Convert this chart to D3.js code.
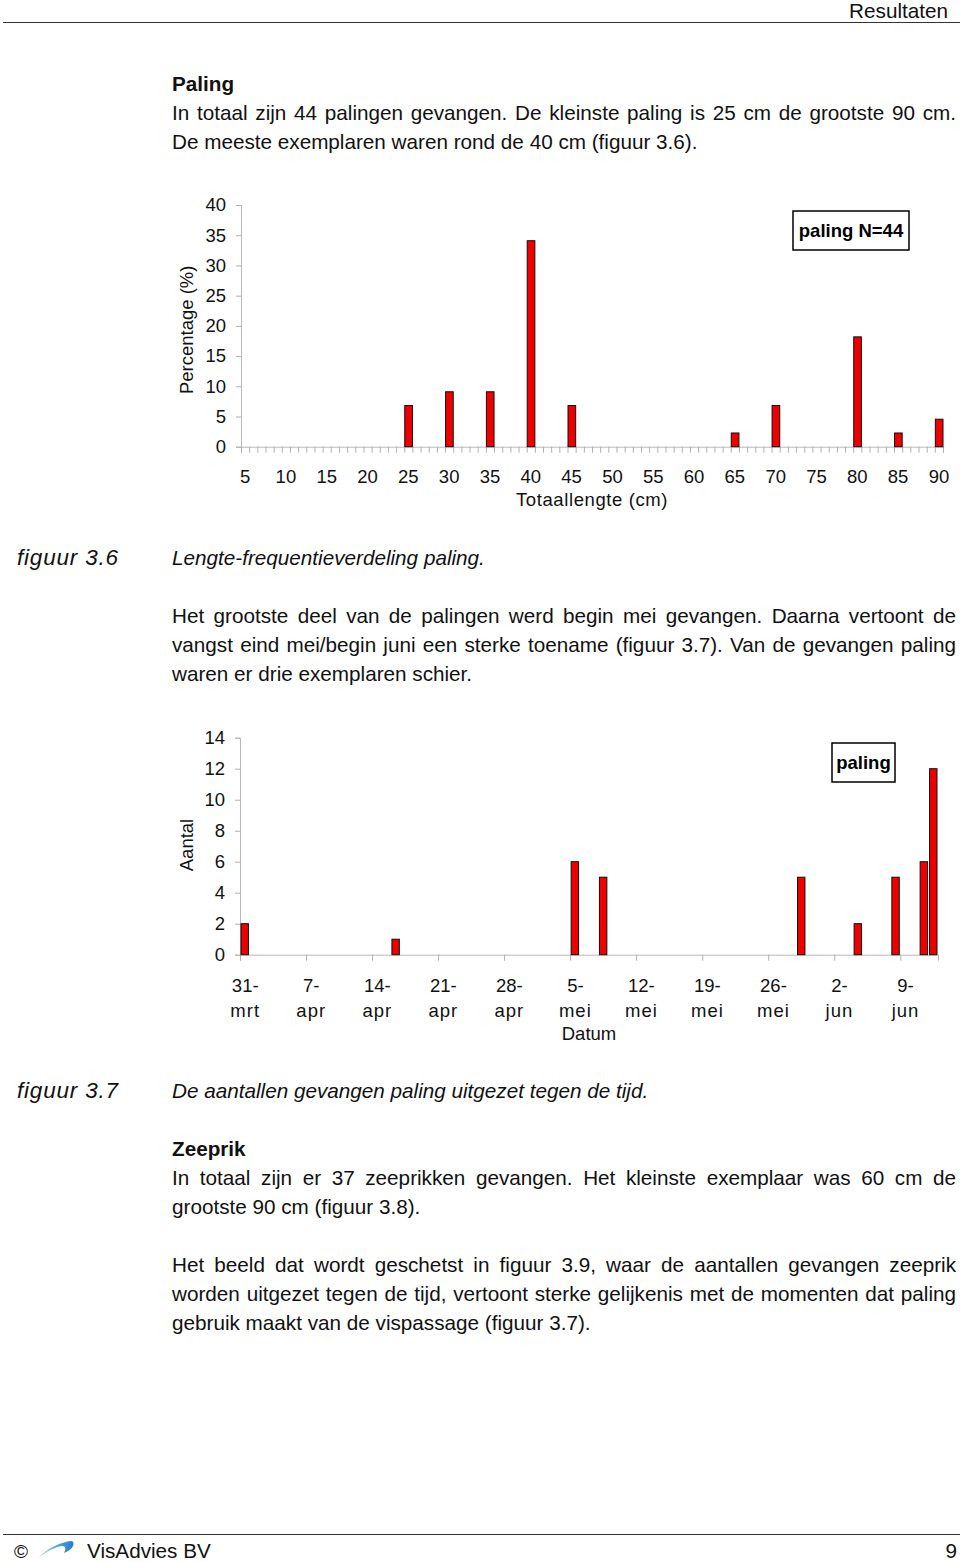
<!DOCTYPE html>
<html>
<head>
<meta charset="utf-8">
<script src="https://cdn.jsdelivr.net/npm/d3@7"></script>
<style>
    body { margin: 0; background: #fff; }
    svg { display: block; font-family: "Liberation Sans", Arial, sans-serif; }
    .axis text { font-size: 18.5px; fill: #111; font-family: "Liberation Sans", Arial, sans-serif; }
</style>
</head>
<body>
<script>
"use strict";

// figuur 3.6 - lengte-frequentie (percentage per lengteklasse, N=44)
const lengthClasses = [25, 30, 35, 40, 45, 65, 70, 80, 85, 90];
const lengthPct     = [6.82, 9.09, 9.09, 34.09, 6.82, 2.27, 6.82, 18.18, 2.27, 4.55];
const lengthTicks   = d3.range(5, 91, 5);
const pctTicks      = d3.range(0, 41, 5);

// figuur 3.7 - aantallen paling per datum
const catchDates  = ["03-31", "04-16", "05-05", "05-08", "05-29", "06-04", "06-08", "06-11", "06-12"];
const catchCounts = [2, 1, 6, 5, 5, 2, 5, 6, 12];
const weekTicks   = ["03-31", "04-07", "04-14", "04-21", "04-28", "05-05", "05-12", "05-19", "05-26", "06-02", "06-09"];
const weekLabels  = [["31-", "mrt"], ["7-", "apr"], ["14-", "apr"], ["21-", "apr"], ["28-", "apr"],
                     ["5-", "mei"], ["12-", "mei"], ["19-", "mei"], ["26-", "mei"], ["2-", "jun"], ["9-", "jun"]];
const countTicks  = d3.range(0, 15, 2);

const toDate = s => new Date(Date.UTC(2009, +s.slice(0, 2) - 1, +s.slice(3)));

const W = 960, H = 1562;
const svg = d3.select("body").append("svg")
              .attr("width", W)
              .attr("height", H);

// ---------- page text ----------
const textRight = 956;
const bodySize = 20.7;

function addLine(x, y, str, opts = {}) {
    const t = svg.append("text")
                 .attr("x", x)
                 .attr("y", y)
                 .style("font-size", (opts.size || bodySize) + "px")
                 .style("font-weight", opts.bold ? "bold" : null)
                 .style("font-style", opts.italic ? "italic" : null)
                 .attr("letter-spacing", opts.spacing || null)
                 .attr("text-anchor", opts.anchor || "start")
                 .attr("fill", "#111")
                 .text(str);
    if (opts.justify) {
        const len = t.node().getComputedTextLength();
        const gaps = str.split(" ").length - 1;
        if (gaps > 0) t.attr("word-spacing", (textRight - x - len) / gaps);
    }
    return t;
}

// header / footer
svg.append("line").attr("x1", 3).attr("x2", W).attr("y1", 22.5).attr("y2", 22.5)
   .attr("stroke", "#333").attr("stroke-width", 1.2);
addLine(948, 18, "Resultaten", {anchor: "end"});
svg.append("line").attr("x1", 3).attr("x2", W).attr("y1", 1534.5).attr("y2", 1534.5)
   .attr("stroke", "#333").attr("stroke-width", 1.2);
addLine(14, 1558, "©", {size: 19});
const grad = svg.append("defs").append("linearGradient").attr("id", "swoosh");
grad.append("stop").attr("offset", "0%").attr("stop-color", "#9fd3f2");
grad.append("stop").attr("offset", "100%").attr("stop-color", "#1e7fc8");
svg.append("path")
   .attr("d", "M38,1558 C48,1548 60,1542 72,1541 C76,1544 72,1550 64,1553 C66,1549 66,1546 62,1546 C54,1547 46,1552 38,1558 Z")
   .attr("fill", "url(#swoosh)");
addLine(87, 1558, "VisAdvies BV");
addLine(957, 1558, "9", {anchor: "end"});

addLine(172, 91, "Paling", {bold: true});
addLine(172, 120, "In totaal zijn 44 palingen gevangen. De kleinste paling is 25 cm de grootste 90 cm.", {justify: true});
addLine(172, 149, "De meeste exemplaren waren rond de 40 cm (figuur 3.6).");

addLine(17, 565, "figuur 3.6", {italic: true, size: 22.5, spacing: 0.8});
addLine(172, 565, "Lengte-frequentieverdeling paling.", {italic: true});

addLine(172, 623, "Het grootste deel van de palingen werd begin mei gevangen. Daarna vertoont de", {justify: true});
addLine(172, 652, "vangst eind mei/begin juni een sterke toename (figuur 3.7). Van de gevangen paling", {justify: true});
addLine(172, 681, "waren er drie exemplaren schier.");

addLine(17, 1098, "figuur 3.7", {italic: true, size: 22.5, spacing: 0.8});
addLine(172, 1098, "De aantallen gevangen paling uitgezet tegen de tijd.", {italic: true});

addLine(172, 1156, "Zeeprik", {bold: true});
addLine(172, 1185, "In totaal zijn er 37 zeeprikken gevangen. Het kleinste exemplaar was 60 cm de", {justify: true});
addLine(172, 1214, "grootste 90 cm (figuur 3.8).");
addLine(172, 1272, "Het beeld dat wordt geschetst in figuur 3.9, waar de aantallen gevangen zeeprik", {justify: true});
addLine(172, 1301, "worden uitgezet tegen de tijd, vertoont sterke gelijkenis met de momenten dat paling", {justify: true});
addLine(172, 1330, "gebruik maakt van de vispassage (figuur 3.7).");

// ---------- helpers ----------
function styleAxis(g) {
    g.attr("class", "axis");
    g.select(".domain").attr("stroke", "#b8b8b8");
    g.selectAll(".tick line").attr("stroke", "#b0b0b0");
}

function legendBox(x, y, w, h, label) {
    svg.append("rect").attr("x", x).attr("y", y).attr("width", w).attr("height", h)
       .attr("fill", "#fff").attr("stroke", "#000").attr("stroke-width", 1.5);
    svg.append("text").attr("x", x + w / 2).attr("y", y + h / 2 + 6.5)
       .attr("text-anchor", "middle").style("font-size", "18.5px").style("font-weight", "bold")
       .text(label);
}

// ---------- figuur 3.6 ----------
{
    const left = 241, right = 943, top = 205, bottom = 446.7;
    const xBand = d3.scaleBand().domain(d3.range(5, 91)).range([left, right]).padding(0);
    const xEdge = d3.scaleLinear().domain([4.5, 90.5]).range([left, right]);
    const y = d3.scaleLinear().domain([0, 40]).range([bottom, top]);

    svg.append("g")
       .attr("transform", `translate(${left},0)`)
       .call(d3.axisLeft(y).tickValues(pctTicks).tickSize(5).tickPadding(10))
       .call(styleAxis);

    svg.append("g")
       .attr("transform", `translate(0,${bottom})`)
       .call(d3.axisBottom(xEdge).tickValues(d3.range(4.5, 91, 1)).tickSize(6).tickFormat(""))
       .call(styleAxis);

    svg.append("g")
       .attr("transform", `translate(0,${bottom})`)
       .call(d3.axisBottom(xBand).tickValues(lengthTicks).tickSize(0).tickPadding(23))
       .call(g => g.select(".domain").remove())
       .call(styleAxis);

    svg.selectAll("rect.lenbar")
       .data(lengthClasses)
       .enter().append("rect")
       .attr("class", "lenbar")
       .attr("x", d => xBand(d) + 0.5)
       .attr("width", xBand.bandwidth() - 0.5)
       .attr("y", (d, i) => y(lengthPct[i]))
       .attr("height", (d, i) => bottom - y(lengthPct[i]))
       .attr("fill", "#ee0000")
       .attr("stroke", "#111")
       .attr("stroke-width", 1);

    svg.append("text").attr("transform", `translate(193,${(top + bottom) / 2 + 4}) rotate(-90)`)
       .attr("text-anchor", "middle").style("font-size", "18.5px").attr("fill", "#111")
       .text("Percentage (%)");
    svg.append("text").attr("x", 592).attr("y", 506).attr("text-anchor", "middle")
       .style("font-size", "18.5px").attr("fill", "#111").attr("letter-spacing", 0.6)
       .text("Totaallengte (cm)");

    legendBox(793, 211, 116, 39, "paling N=44");
}

// ---------- figuur 3.7 ----------
{
    const left = 240, right = 938, top = 737.7, bottom = 954.7;
    const x = d3.scaleUtc().domain([toDate("03-31"), toDate("06-13")]).range([left, right]);
    const dayW = x(toDate("04-01")) - x(toDate("03-31"));
    const y = d3.scaleLinear().domain([0, 14]).range([bottom, top]);

    svg.append("g")
       .attr("transform", `translate(${left},0)`)
       .call(d3.axisLeft(y).tickValues(countTicks).tickSize(5).tickPadding(10))
       .call(styleAxis);

    const xAxis = svg.append("g")
       .attr("transform", `translate(0,${bottom})`)
       .call(d3.axisBottom(x).tickValues(weekTicks.map(toDate)).tickSize(6).tickFormat(""))
       .call(styleAxis);

    xAxis.selectAll(".tick")
         .append("text")
         .attr("text-anchor", "middle")
         .attr("x", dayW / 2)
         .each(function(d, i) {
             const t = d3.select(this);
             weekLabels[i].forEach((s, k) => {
                 t.append("tspan").attr("x", dayW / 2).attr("y", 37 + k * 25)
                  .attr("letter-spacing", k ? 1 : null).text(s);
             });
         });

    svg.selectAll("rect.datebar")
       .data(catchDates)
       .enter().append("rect")
       .attr("class", "datebar")
       .attr("x", d => x(toDate(d)) + 1)
       .attr("width", dayW - 2)
       .attr("y", (d, i) => y(catchCounts[i]))
       .attr("height", (d, i) => bottom - y(catchCounts[i]))
       .attr("fill", "#ee0000")
       .attr("stroke", "#111")
       .attr("stroke-width", 1);

    svg.append("text").attr("transform", `translate(193,${845}) rotate(-90)`)
       .attr("text-anchor", "middle").style("font-size", "18.5px").attr("fill", "#111")
       .text("Aantal");
    svg.append("text").attr("x", 589).attr("y", 1040).attr("text-anchor", "middle")
       .style("font-size", "18.5px").attr("fill", "#111")
       .text("Datum");

    legendBox(832, 743, 63, 39, "paling");
}
</script>
</body>
</html>
